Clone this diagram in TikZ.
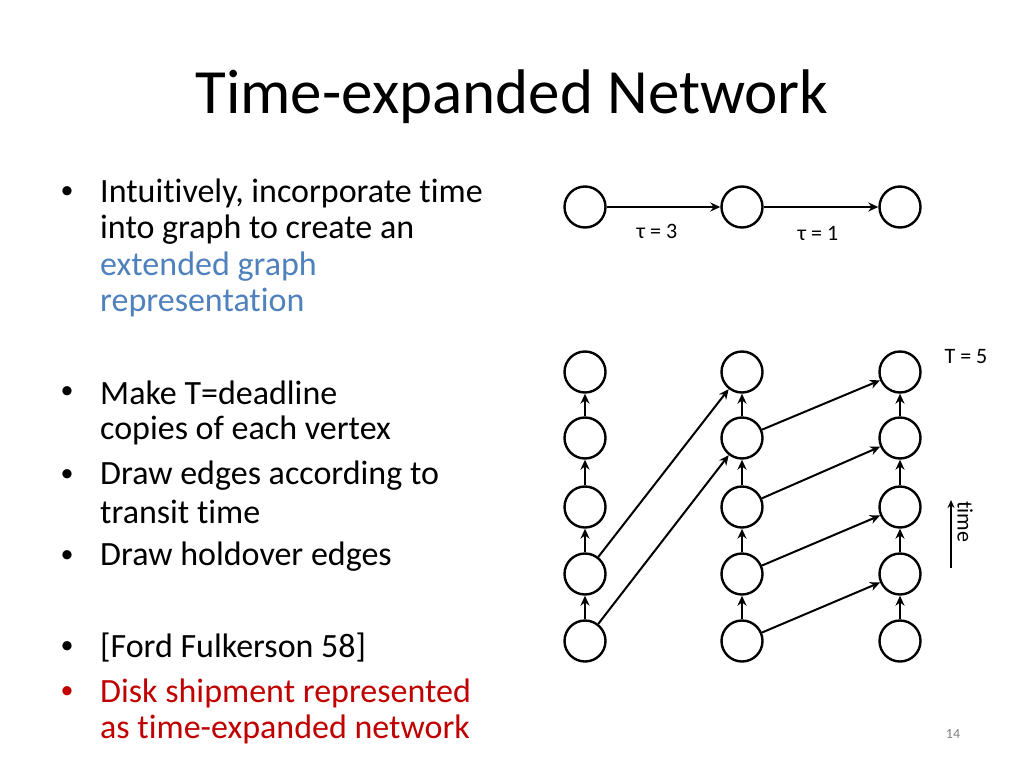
\documentclass[tikz,border=0pt]{standalone}
\usepackage{fontspec}
\setmainfont[Ligatures={NoCommon}]{Carlito}
\usetikzlibrary{arrows.meta}
\definecolor{cblue}{RGB}{79,129,189}
\definecolor{cred}{RGB}{192,0,0}
\begin{document}
\begin{tikzpicture}[x=1pt,y=-1pt,
  vtx/.style={circle,draw,line width=2.4pt,minimum size=41pt,inner sep=0pt},
  edge/.style={line width=2pt,-{Stealth[length=10pt,width=9pt]}},
  txt/.style={anchor=west,font=\fontsize{34}{40}\selectfont,inner sep=0pt},
  bul/.style={anchor=center,font=\fontsize{26}{30}\selectfont,inner sep=0pt},
  lbl/.style={font=\fontsize{22}{24}\selectfont,inner sep=0pt}]
\useasboundingbox (0,0) rectangle (1024,768);
\node[font=\fontsize{63}{70}\selectfont] (title) at (512,97) {Time-expanded Network};
% bullets
\node[bul] (b1) at (67,193) {•};
\node[txt] (l1) at (100,193) {Intuitively, incorporate time};
\node[txt] (l2) at (100,230) {into graph to create an};
\node[txt,text=cblue] (l3) at (100,267) {extended graph};
\node[txt,text=cblue] (l4) at (100,303) {representation};
\node[bul] (b2) at (67,393) {•};
\node[txt] (l5) at (100,393) {Make T=deadline};
\node[txt] (l6) at (100,430) {copies of each vertex};
\node[bul] (b3) at (67,476) {•};
\node[txt] (l7) at (100,476) {Draw edges according to};
\node[txt] (l8) at (100,512) {transit time};
\node[bul] (b4) at (67,557) {•};
\node[txt] (l9) at (100,557) {Draw holdover edges};
\node[bul] (b5) at (67,648) {•};
\node[txt] (l10) at (100,648) {[Ford Fulkerson 58]};
\node[bul,text=cred] (b6) at (67,693) {•};
\node[txt,text=cred] (l11) at (100,693) {Disk shipment represented};
\node[txt,text=cred] (l12) at (100,729) {as time-expanded network};
% top graph
\node[vtx] (t1) at (585,207) {};
\node[vtx] (t2) at (742,207) {};
\node[vtx] (t3) at (900,207) {};
\draw[edge] (t1) -- (t2);
\draw[edge] (t2) -- (t3);
\node[lbl] (tau3) at (657,231) {τ = 3};
\node[lbl] (tau1) at (818,233) {τ = 1};
% grid
\foreach \c/\x in {1/585,2/742,3/900}{
  \foreach \r/\y in {1/372,2/438,3/507,4/574,5/641}{
    \node[vtx] (n\c\r) at (\x,\y) {};
  }
  \foreach \r/\s in {2/1,3/2,4/3,5/4}{
    \draw[edge] (n\c\r) -- (n\c\s);
  }
}
\draw[edge] (n14) -- (n21);
\draw[edge] (n15) -- (n22);
\draw[edge] (n22) -- (n31);
\draw[edge] (n23) -- (n32);
\draw[edge] (n24) -- (n33);
\draw[edge] (n25) -- (n34);
\node[lbl] (T5) at (966,357) {T = 5};
\coordinate (ta) at (951,568);
\coordinate (tb) at (951,500);
\draw[line width=1.2pt,-{Stealth[length=8pt,width=7pt]}] (ta) -- (tb);
\node[lbl,rotate=-90] (time) at (965,522) {time};
\node[font=\fontsize{14}{16}\selectfont,text=gray] (pg) at (953,734) {14};
\end{tikzpicture}
\end{document}
